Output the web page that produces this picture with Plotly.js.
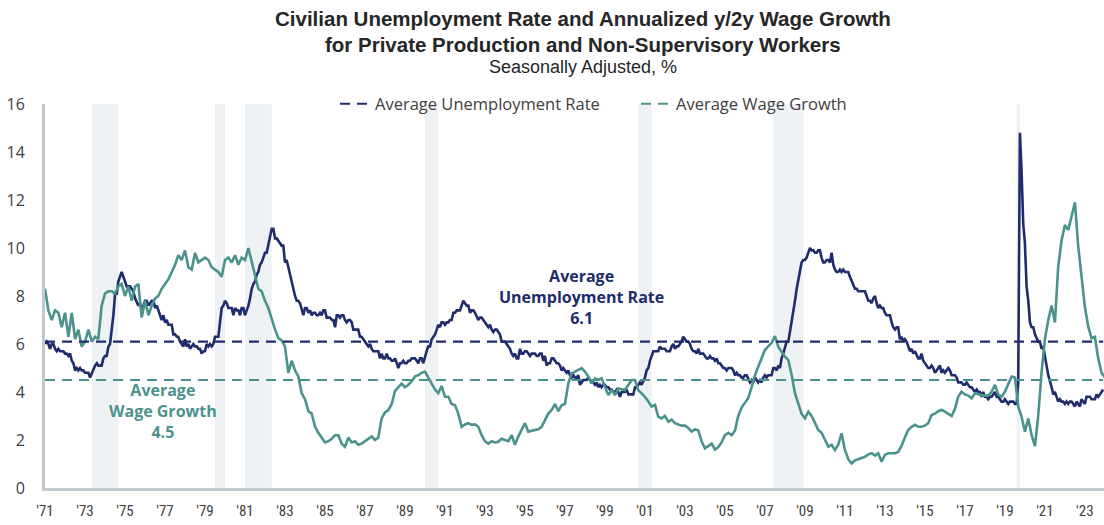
<!DOCTYPE html>
<html>
<head>
<meta charset="utf-8">
<script src="https://cdn.plot.ly/plotly-3.0.1.min.js"></script>
<style>html,body{margin:0;padding:0;background:#fff;}#chart{width:1104px;height:525px;}</style>
</head>
<body>
<div id="chart"></div>
<script>
// ---- DATA ----
// Civilian unemployment rate, monthly, starting 1971-07
const unempStart = [1971, 7];
const unemp = [
6.0,6.1,6.0,5.8,6.0,6.0,
5.8,5.7,5.8,5.7,5.7,5.7,5.6,5.6,5.5,5.6,5.3,5.2,
4.9,5.0,4.9,5.0,4.9,4.9,4.8,4.8,4.8,4.6,4.8,4.9,
5.1,5.2,5.1,5.1,5.1,5.4,5.5,5.5,5.9,6.0,6.6,7.2,
8.1,8.1,8.6,8.8,9.0,8.8,8.6,8.4,8.4,8.4,8.3,8.2,
7.9,7.7,7.6,7.7,7.4,7.6,7.8,7.8,7.6,7.7,7.8,7.8,
7.5,7.6,7.4,7.2,7.0,7.2,6.9,7.0,6.8,6.8,6.8,6.4,
6.4,6.3,6.3,6.1,6.0,5.9,6.2,5.9,6.0,5.8,5.9,6.0,
5.9,5.9,5.8,5.8,5.6,5.7,5.7,6.0,5.9,6.0,5.9,6.0,
6.3,6.3,6.3,6.9,7.5,7.6,7.8,7.7,7.5,7.5,7.5,7.2,
7.5,7.4,7.4,7.2,7.5,7.5,7.2,7.4,7.6,7.9,8.3,8.5,
8.6,8.9,9.0,9.3,9.4,9.6,9.8,9.8,10.1,10.4,10.8,10.8,
10.4,10.4,10.3,10.2,10.1,10.1,9.4,9.5,9.2,8.8,8.5,8.3,
8.0,7.8,7.8,7.7,7.4,7.2,7.5,7.5,7.3,7.4,7.2,7.3,
7.3,7.2,7.2,7.3,7.2,7.4,7.4,7.1,7.1,7.1,7.0,7.0,
6.7,7.2,7.2,7.1,7.2,7.2,7.0,6.9,7.0,7.0,6.9,6.6,
6.6,6.6,6.6,6.3,6.3,6.2,6.1,6.0,5.9,6.0,5.8,5.7,
5.7,5.7,5.7,5.4,5.6,5.4,5.4,5.6,5.4,5.4,5.3,5.3,
5.4,5.2,5.0,5.2,5.2,5.3,5.2,5.2,5.3,5.3,5.4,5.4,
5.4,5.3,5.2,5.4,5.4,5.2,5.5,5.7,5.9,5.9,6.2,6.3,
6.4,6.6,6.8,6.7,6.9,6.9,6.8,6.9,6.9,7.0,7.0,7.3,
7.3,7.4,7.4,7.4,7.6,7.8,7.7,7.6,7.6,7.3,7.4,7.4,
7.3,7.1,7.0,7.1,7.1,7.0,6.9,6.8,6.7,6.8,6.6,6.5,
6.6,6.6,6.5,6.4,6.1,6.1,6.1,6.0,5.9,5.8,5.6,5.5,
5.6,5.4,5.4,5.8,5.6,5.6,5.7,5.7,5.6,5.5,5.6,5.6,
5.6,5.5,5.5,5.6,5.6,5.3,5.5,5.1,5.2,5.2,5.4,5.4,
5.3,5.2,5.2,5.1,4.9,5.0,4.9,4.8,4.9,4.7,4.6,4.7,
4.6,4.6,4.7,4.3,4.4,4.5,4.5,4.5,4.6,4.5,4.4,4.4,
4.3,4.4,4.2,4.3,4.2,4.3,4.3,4.2,4.2,4.1,4.1,4.0,
4.0,4.1,4.0,3.8,4.0,4.0,4.0,4.1,3.9,3.9,3.9,3.9,
4.2,4.2,4.3,4.4,4.3,4.5,4.6,4.9,5.0,5.3,5.5,5.7,
5.7,5.7,5.7,5.9,5.8,5.8,5.8,5.7,5.7,5.7,5.9,6.0,
5.8,5.9,5.9,6.0,6.1,6.3,6.2,6.1,6.1,6.0,5.8,5.7,
5.7,5.6,5.8,5.6,5.6,5.6,5.5,5.4,5.4,5.5,5.4,5.4,
5.3,5.4,5.2,5.2,5.1,5.0,5.0,4.9,5.0,5.0,5.0,4.9,
4.7,4.8,4.7,4.7,4.6,4.6,4.7,4.7,4.5,4.4,4.5,4.4,
4.6,4.5,4.4,4.5,4.4,4.6,4.7,4.6,4.7,4.7,4.7,5.0,
5.0,4.9,5.1,5.0,5.4,5.6,5.8,6.1,6.1,6.5,6.8,7.3,
7.8,8.3,8.7,9.0,9.4,9.5,9.5,9.6,9.8,10.0,9.9,9.9,
9.8,9.8,9.9,9.9,9.6,9.4,9.4,9.5,9.5,9.4,9.8,9.3,
9.1,9.0,9.0,9.1,9.0,9.1,9.0,9.0,9.0,8.8,8.6,8.5,
8.3,8.3,8.2,8.2,8.2,8.2,8.2,8.0,7.8,7.8,7.7,7.9,
8.0,7.7,7.5,7.6,7.5,7.5,7.3,7.2,7.2,7.2,6.9,6.7,
6.6,6.7,6.7,6.2,6.3,6.1,6.2,6.1,5.9,5.7,5.8,5.6,
5.7,5.5,5.4,5.4,5.6,5.3,5.2,5.1,5.0,5.0,5.1,5.0,
4.8,4.9,5.0,5.1,4.8,4.9,4.8,4.9,5.0,4.9,4.7,4.7,
4.7,4.6,4.4,4.4,4.4,4.3,4.3,4.4,4.3,4.2,4.2,4.1,
4.0,4.1,4.0,4.0,3.8,4.0,3.8,3.8,3.7,3.8,3.8,3.9,
4.0,3.8,3.8,3.7,3.6,3.6,3.7,3.6,3.5,3.6,3.6,3.6,
3.5,3.5,4.4,14.8,13.2,11.0,10.2,8.4,7.8,6.9,6.7,6.7,
6.4,6.2,6.1,6.1,5.8,5.9,5.4,5.1,4.7,4.5,4.2,3.9,
4.0,3.8,3.6,3.7,3.6,3.6,3.5,3.6,3.5,3.6,3.6,3.5,
3.4,3.6,3.5,3.4,3.7,3.6,3.5,3.8,3.8,3.8,3.7,3.7,
3.7,3.9,3.8,3.9,4.0,4.1
];

// Annualized y/2y wage growth, read every two months, starting 1971-07
const wageStart = [1971, 7];
const wageStepMonths = 2;
const wage = [
8.3,7.4,7.0,7.4,7.3,6.7,7.3,6.3,7.3,6.2,6.6,5.9,6.1,6.6,6.1,6.3,6.2,7.6,8.1,8.2,
8.2,8.1,8.4,8.5,8.0,8.4,7.8,8.4,8.5,7.1,7.8,7.2,7.6,7.9,8.0,8.3,8.5,8.7,9.0,9.3,
9.7,9.5,9.9,9.2,9.1,9.8,9.4,9.5,9.6,9.5,9.2,9.1,9.0,8.8,9.5,9.6,9.4,9.7,9.3,9.6,
9.5,10.0,9.4,8.8,8.3,8.2,7.8,7.5,7.0,6.6,6.25,6.15,5.9,4.8,5.3,4.9,4.65,3.95,3.7,3.2,
3.1,2.55,2.3,2.1,1.9,1.95,2.05,2.2,2.2,1.85,1.72,2.1,1.9,1.95,1.8,1.85,1.95,2.05,2.15,2.0,
2.1,2.9,3.15,3.25,3.5,4.05,4.2,4.35,4.2,4.3,4.45,4.65,4.7,4.8,4.85,4.6,4.35,4.1,3.95,4.25,
3.8,3.8,3.5,3.45,3.1,2.55,2.65,2.7,2.63,2.65,2.55,2.2,1.95,1.85,1.95,1.9,1.93,2.05,2.0,1.95,
2.2,1.8,2.14,2.42,2.7,2.35,2.4,2.42,2.45,2.55,2.83,3.1,3.25,3.5,3.2,3.45,3.5,4.36,4.78,4.85,
4.95,5.0,4.85,4.64,4.36,4.57,4.5,4.57,4.22,3.87,4.08,3.87,4.15,4.1,4.08,4.29,4.5,4.5,4.08,3.94,
3.8,3.6,3.39,3.46,2.97,2.9,3.0,2.76,2.85,2.7,2.65,2.6,2.6,2.5,2.35,2.45,2.4,1.95,1.65,1.75,
1.85,1.6,1.7,1.9,2.2,2.3,2.2,2.4,3.0,3.35,3.55,3.75,4.2,4.7,5.05,5.4,5.75,5.9,6.05,6.33,
5.89,5.68,5.47,5.33,4.71,3.94,3.5,3.1,2.9,3.18,3.0,2.7,2.42,2.3,2.0,1.72,1.8,1.58,1.8,2.28,
1.6,1.2,1.03,1.15,1.2,1.25,1.3,1.4,1.45,1.35,1.45,1.1,1.38,1.45,1.45,1.45,1.5,1.75,2.1,2.42,
2.55,2.63,2.55,2.55,2.6,2.7,3.04,3.1,3.2,3.25,3.18,3.1,3.0,3.3,3.8,4.01,3.9,3.85,3.74,3.95,
3.9,3.87,3.85,3.85,4.01,4.3,3.9,3.8,4.01,4.36,4.64,4.6,3.4,2.97,2.35,2.9,2.2,1.75,3.0,4.8,
6.2,7.0,7.6,6.9,9.2,10.3,10.96,10.75,11.3,11.9,10.1,8.7,7.56,6.72,6.24,6.3,5.4,4.8,4.6
];

const avgUnemp = 6.1;
const avgWage = 4.5;

// NBER recessions
const recessionStarts = ["1973-11-01","1980-01-01","1981-07-01","1990-07-01","2001-03-01","2007-12-01","2020-02-01"];
const recessionEnds   = ["1975-03-01","1980-07-01","1982-11-01","1991-03-01","2001-11-01","2009-06-01","2020-04-01"];

const tickYears = [1971,1973,1975,1977,1979,1981,1983,1985,1987,1989,1991,1993,1995,1997,1999,2001,2003,2005,2007,2009,2011,2013,2015,2017,2019,2021,2023];
const tickLabels = ["'71","'73","'75","'77","'79","'81","'83","'85","'87","'89","'91","'93","'95","'97","'99","'01","'03","'05","'07","'09","'11","'13","'15","'17","'19","'21","'23"];

// ---- BUILD ----
function monthDate(start, idx) {
  const d = new Date(Date.UTC(start[0], start[1] - 1 + idx, 1));
  return d.toISOString().slice(0, 10);
}
const unempX = unemp.map((_, i) => monthDate(unempStart, i));
const wageX = wage.map((_, i) => monthDate(wageStart, i * wageStepMonths));
const xFirst = unempX[0];
const xLast = unempX[unempX.length - 1];

const NAVY = '#202c6b';
const TEAL = '#4b928d';
const TXT = '#404040';
const AX = '#c3cacd';

const traces = [
  {x: unempX, y: unemp, type: 'scatter', mode: 'lines', line: {color: NAVY, width: 2.6}, showlegend: false, hoverinfo: 'skip'},
  {x: wageX, y: wage, type: 'scatter', mode: 'lines', line: {color: TEAL, width: 2.6}, showlegend: false, hoverinfo: 'skip'},
  {x: [xFirst, xLast], y: [avgUnemp, avgUnemp], type: 'scatter', mode: 'lines', name: 'Average Unemployment Rate', line: {color: NAVY, width: 2.2, dash: '10px,7px'}},
  {x: [xFirst, xLast], y: [avgWage, avgWage], type: 'scatter', mode: 'lines', name: 'Average Wage Growth', line: {color: TEAL, width: 2.2, dash: '10px,7px'}}
];

const shapes = recessionStarts.map((s, i) => ({
  type: 'rect', xref: 'x', yref: 'paper', x0: s, x1: recessionEnds[i], y0: 0, y1: 1,
  fillcolor: '#eef2f4', line: {width: 0}, layer: 'below'
}));

const FONT = '"Open Sans", Roboto, sans-serif';
const TFONT = '"Liberation Sans", Arial, sans-serif';
const NARROW = '"Liberation Sans Narrow", "Roboto Condensed", Roboto, sans-serif';
const TX = (583 - 45) / 1059;

const annotations = [
  {xref: 'paper', yref: 'paper', x: TX, y: (488 - 18) / 384, text: '<b>Civilian Unemployment Rate and Annualized y/2y Wage Growth</b>', showarrow: false, font: {family: TFONT, size: 20.5, color: '#262626'}, xanchor: 'center', yanchor: 'middle'},
  {xref: 'paper', yref: 'paper', x: TX, y: (488 - 44) / 384, text: '<b>for Private Production and Non-Supervisory Workers</b>', showarrow: false, font: {family: TFONT, size: 20.5, color: '#262626'}, xanchor: 'center', yanchor: 'middle'},
  {xref: 'paper', yref: 'paper', x: TX, y: (488 - 67) / 384, text: 'Seasonally Adjusted, %', showarrow: false, font: {family: TFONT, size: 18, color: '#262626'}, xanchor: 'center', yanchor: 'middle'},
  {xref: 'x', yref: 'y', x: '1998-05-01', y: 7.96, text: '<b>Average<br>Unemployment Rate<br>6.1</b>', showarrow: false, font: {family: FONT, size: 16, color: NAVY}, align: 'center', xanchor: 'center', yanchor: 'middle'},
  {xref: 'x', yref: 'y', x: '1977-06-01', y: 3.2, text: '<b>Average<br>Wage Growth<br>4.5</b>', showarrow: false, font: {family: FONT, size: 16, color: TEAL}, align: 'center', xanchor: 'center', yanchor: 'middle'}
];

const layout = {
  width: 1104, height: 525,
  margin: {l: 45, r: 0, t: 104, b: 37, pad: 0},
  paper_bgcolor: '#ffffff', plot_bgcolor: '#ffffff',
  showlegend: true,
  legend: {orientation: 'h', x: (335 - 45) / 1059, xanchor: 'left', y: 1.0, yanchor: 'middle', font: {family: FONT, size: 16.5, color: TXT}, bgcolor: 'rgba(0,0,0,0)', entrywidthmode: 'pixels', entrywidth: 256},
  xaxis: {
    type: 'date', range: [xFirst, '2024-06-15'],
    tickvals: tickYears.map(y => y + '-07-01'), ticktext: tickLabels,
    showgrid: false, zeroline: false, showline: true, linecolor: AX, linewidth: 3,
    ticks: '', tickfont: {family: NARROW, size: 15, color: TXT}, ticklabelstandoff: 7
  },
  yaxis: {
    range: [0, 16], dtick: 2, tick0: 0,
    showgrid: false, zeroline: false, showline: true, linecolor: AX, linewidth: 3,
    ticks: '', tickfont: {family: FONT, size: 16, color: TXT}, ticklabelstandoff: 14
  },
  shapes: shapes,
  annotations: annotations
};

Plotly.newPlot('chart', traces, layout, {staticPlot: true, displayModeBar: false});
</script>
</body>
</html>
